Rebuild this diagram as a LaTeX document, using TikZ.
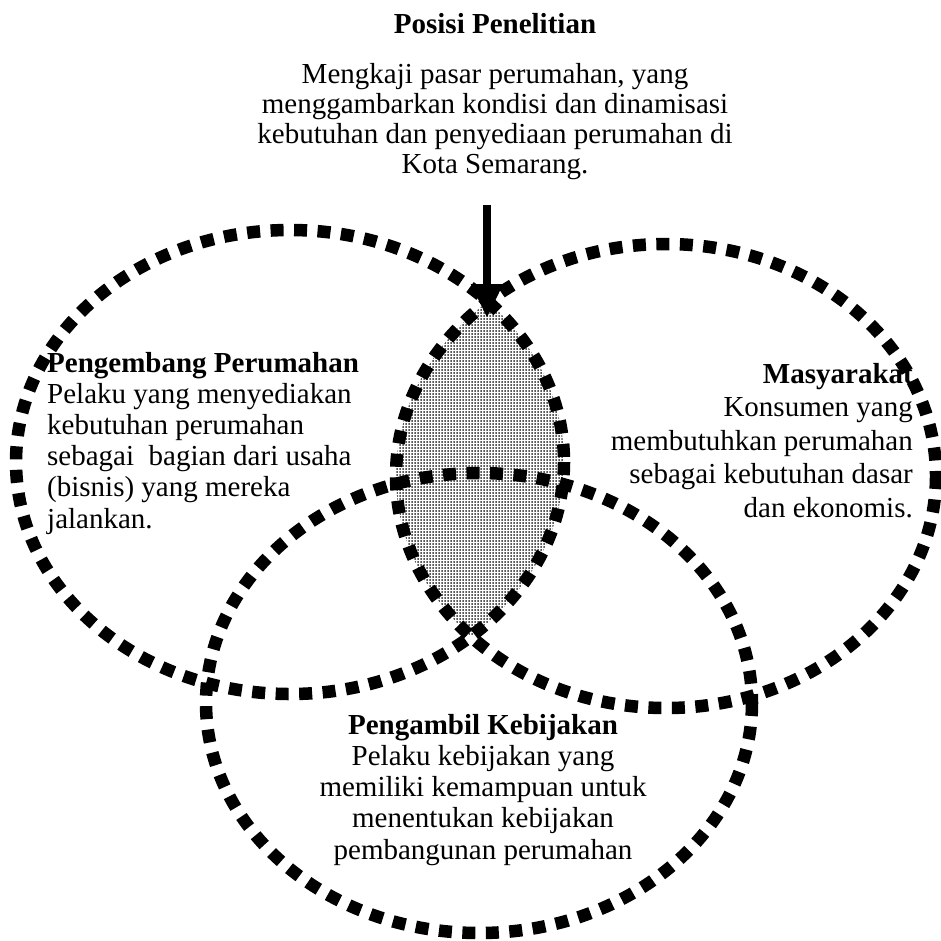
\documentclass[tikz,border=0pt]{standalone}
\usepackage{fontspec}
\setmainfont{Liberation Serif}
\usetikzlibrary{arrows.meta,patterns}
% fine halftone used for the overlap area
\pgfdeclarepatternformonly{halftone}{\pgfqpoint{0pt}{0pt}}{\pgfqpoint{3.2pt}{3pt}}{\pgfqpoint{3.2pt}{3pt}}{%
  \pgfpathrectangle{\pgfqpoint{0.6pt}{0.5pt}}{\pgfqpoint{1.8pt}{1.8pt}}\pgfusepath{fill}}
\begin{document}
\begin{tikzpicture}[x=1pt,y=-1pt,
  ring/.style={line width=12.5pt, dash pattern=on 13pt off 10.5pt},
  lens/.style={pattern=halftone, pattern color=black},
  txt/.style={inner sep=0pt, font=\fontsize{29}{31.2}\selectfont},
  toptxt/.style={inner sep=0pt, font=\fontsize{29}{30}\selectfont},
  sidetxt/.style={inner sep=0pt, font=\fontsize{29}{33.5}\selectfont},
  pointer/.style={line width=8pt, -{Triangle[length=34pt,width=30pt]}}]
\useasboundingbox (0,0) rectangle (941,940);

% shaded overlap of the developer and community ovals
\begin{scope}
  \clip (290,462) ellipse [x radius=274, y radius=232];
  \fill[lens] (666,476) ellipse [x radius=270, y radius=232];
\end{scope}

% the three actor ovals
\draw[ring] (290,462) ellipse [x radius=274, y radius=232];
\draw[ring] (666,476) ellipse [x radius=270, y radius=232];
\draw[ring] (479,703) ellipse [x radius=273, y radius=230];

% research position (anchors sit on the last baseline of each block)
\node[toptxt, anchor=base] (title) at (495,33) {\textbf{Posisi Penelitian}};
\node[toptxt, anchor=base, align=center] (study) at (495,173)
  {Mengkaji pasar perumahan, yang\\
   menggambarkan kondisi dan dinamisasi\\
   kebutuhan dan penyediaan perumahan di\\
   Kota Semarang.};

\coordinate (arrowtop) at (487,205);
\coordinate (lenstop) at (487,318);
\draw[pointer] (arrowtop) -- (lenstop);

% actors
\node[txt, anchor=base west, align=left] (developer) at (47,528)
  {\textbf{Pengembang Perumahan}\\
   Pelaku yang menyediakan\\
   kebutuhan perumahan\\
   sebagai~ bagian dari usaha\\
   (bisnis) yang mereka\\
   jalankan.};

\node[sidetxt, anchor=base east, align=right] (community) at (913,517)
  {\textbf{Masyarakat}\\
   Konsumen yang\\
   membutuhkan perumahan\\
   sebagai kebutuhan dasar\\
   dan ekonomis.};

\node[txt, anchor=base, align=center] (policy) at (483,859)
  {\textbf{Pengambil Kebijakan}\\
   Pelaku kebijakan yang\\
   memiliki kemampuan untuk\\
   menentukan kebijakan\\
   pembangunan perumahan};
\end{tikzpicture}
\end{document}
